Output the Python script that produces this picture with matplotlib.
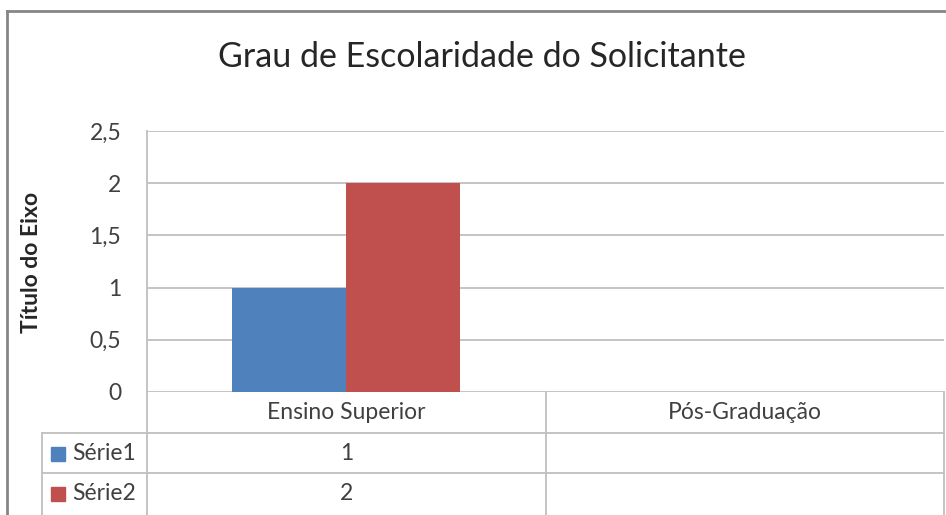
import matplotlib
matplotlib.use("Agg")
import matplotlib.pyplot as plt
import numpy as np
from matplotlib.lines import Line2D
from matplotlib.patches import Rectangle

plt.rcParams['font.family'] = ['Lato', 'DejaVu Sans']

categorias = ["Ensino Superior", "Pós-Graduação"]
series = ["Série1", "Série2"]
serie1 = [1, np.nan]
serie2 = [2, np.nan]
cores = ["#4F81BD", "#C0504D"]
yticks = [0, 0.5, 1, 1.5, 2, 2.5]
yticklabels = ["0", "0,5", "1", "1,5", "2", "2,5"]

W, H = 946, 515
fig = plt.figure(figsize=(W / 100, H / 100), dpi=100)

# area do grafico em pixels
x0, x1 = 147, 944
ytop, ybot = 131, 392
ax = fig.add_axes([x0 / W, (H - ybot) / H, (x1 - x0) / W, (ybot - ytop) / H])

x = np.arange(len(categorias))
larg = 0.286
ax.bar(x - larg / 2, serie1, larg, color=cores[0], zorder=3)
ax.bar(x + larg / 2, serie2, larg, color=cores[1], zorder=3)

texto = "#404040"
fs = 16.5
ax.set_xlim(-0.5, len(categorias) - 0.5)
ax.set_ylim(0, 2.5)
ax.set_yticks(yticks)
ax.set_yticklabels(yticklabels, fontsize=fs, color=texto)
ax.tick_params(axis='y', length=0, pad=18.5)
ax.set_xticks([])
ax.grid(axis='y', color="#BFBFBF", linewidth=1.3, zorder=0)
for s in ["top", "right", "bottom"]:
    ax.spines[s].set_visible(False)
ax.spines["left"].set_color("#BFBFBF")
ax.spines["left"].set_linewidth(1.3)

fig.text(482 / W, 1 - 67 / H, "Grau de Escolaridade do Solicitante", fontsize=24.5,
         color="#262626", ha="center", va="baseline")
fig.text(31 / W, 1 - 262 / H, "Título do Eixo", fontsize=16.5, fontweight="bold",
         color="#262626", rotation=90, ha="center", va="center")

# tabela de dados abaixo do eixo
px = 1 / (ybot - ytop)  # um pixel em fracao do eixo
catw = (x1 - x0) / len(categorias)
tr = ax.get_xaxis_transform()
cor_linha = "#BFBFBF"
lw = 1.3
leg_x = -0.5 - (x0 - 42) / catw
linhas_y = [-41 * px, -81 * px]
fim_y = -130 * px
for xv in [-0.5 + i for i in range(len(categorias) + 1)]:
    ax.add_line(Line2D([xv, xv], [0, fim_y], transform=tr, color=cor_linha, lw=lw, clip_on=False))
ax.add_line(Line2D([leg_x, leg_x], [linhas_y[0], fim_y], transform=tr, color=cor_linha, lw=lw, clip_on=False))
for yv in linhas_y:
    ax.add_line(Line2D([leg_x, len(categorias) - 0.5], [yv, yv], transform=tr, color=cor_linha, lw=lw, clip_on=False))

for i, cat in enumerate(categorias):
    ax.text(i, -20.5 * px, cat, transform=tr, ha="center", va="center", fontsize=fs, color=texto)

valores = [serie1, serie2]
centros = [-61.5 * px, -102 * px]
for r, (nome, vals) in enumerate(zip(series, valores)):
    yc = centros[r]
    for i, v in enumerate(vals):
        if not np.isnan(v):
            ax.text(i, yc, f"{v:g}", transform=tr, ha="center", va="center", fontsize=fs, color=texto)
    # chave da legenda
    kx = leg_x + 9 / catw
    ax.add_patch(Rectangle((kx, yc - 7 * px), 14 / catw, 14 * px, transform=tr,
                           color=cores[r], clip_on=False))
    ax.text(kx + 21 / catw, yc, nome, transform=tr, ha="left", va="center", fontsize=fs, color=texto)

# borda externa do grafico
fig.add_artist(Line2D([7 / W, 7 / W], [0, 1 - 11 / H], color="#868686", lw=2))
fig.add_artist(Line2D([7 / W, 1], [1 - 11 / H, 1 - 11 / H], color="#868686", lw=2))

fig.savefig("out.png", dpi=100)
